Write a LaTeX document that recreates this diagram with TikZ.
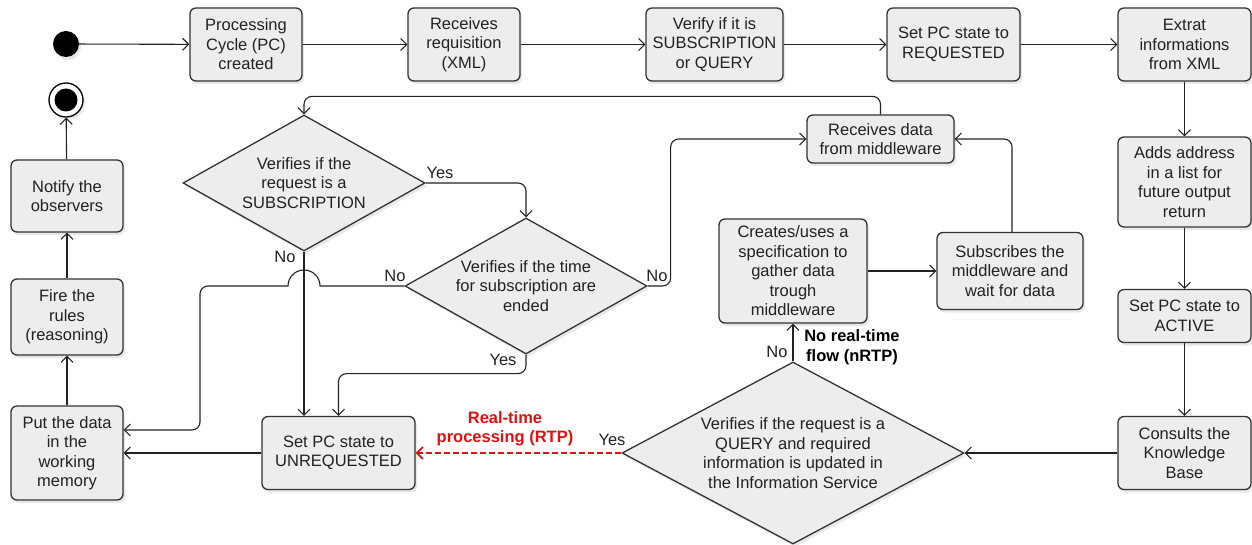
\documentclass[tikz,border=0pt]{standalone}
\usepackage{fontspec}
\setmainfont{Liberation Sans}
\usetikzlibrary{arrows.meta,shapes.geometric,shadows}
\definecolor{boxfill}{HTML}{EDEDED}
\definecolor{boxline}{HTML}{333333}
\definecolor{txt}{HTML}{222222}
\definecolor{rtp}{HTML}{E01010}
\begin{document}
\begin{tikzpicture}[x=1pt,y=-1pt,
  font=\fontsize{16.5}{19.5}\selectfont,
  shad/.style={drop shadow={shadow xshift=2pt,shadow yshift=-3pt,opacity=0.18}},
  box/.style={draw=boxline, line width=1.3pt, fill=boxfill, rounded corners=6pt,
    align=center, text=txt, inner sep=1pt, shad},
  dia/.style={draw=boxline, line width=1.3pt, fill=boxfill, diamond, inner sep=0pt, shad},
  dtext/.style={align=center, text=txt, inner sep=0pt},
  tip/.style={-{Straight Barb[length=6pt,width=12pt]}},
  flow/.style={draw=txt, line width=1.1pt, tip},
  rtpline/.style={draw=rtp, line width=1.8pt, dash pattern=on 6pt off 3pt,
    -{Straight Barb[length=6pt,width=12pt]}},
  lbl/.style={text=txt, inner sep=0pt},
  blbl/.style={text=black, inner sep=0pt, align=center, font=\fontsize{16.5}{19.5}\selectfont\bfseries},
  rlbl/.style={text=rtp, inner sep=0pt, align=center, font=\fontsize{16.5}{19.5}\selectfont\bfseries}]
\path[use as bounding box] (0,0) rectangle (1252,545);

% initial and final nodes
\node[circle, fill=black, minimum size=26pt, inner sep=0pt, shad] (start) at (66,44) {};
\node[circle, draw=black, fill=white, line width=1.3pt, minimum size=34pt, inner sep=0pt, shad] (end) at (66,100) {};
\node[circle, fill=black, minimum size=23pt, inner sep=0pt] (endin) at (end) {};

% top row
\node[box, minimum width=112pt, minimum height=73pt] (pc) at (246,44.5) {Processing\\Cycle (PC)\\created};
\node[box, minimum width=112pt, minimum height=73pt] (rr) at (464,44.5) {Receives\\requisition\\(XML)};
\node[box, minimum width=137pt, minimum height=73pt] (vq) at (714.5,44.5) {Verify if it is\\SUBSCRIPTION\\or QUERY};
\node[box, minimum width=133pt, minimum height=73pt] (req) at (953.5,44.5) {Set PC state to\\REQUESTED};
\node[box, minimum width=133pt, minimum height=73pt] (xml) at (1184.5,44.5) {Extrat\\informations\\from XML};

% right column
\node[box, minimum width=133pt, minimum height=90pt] (adds) at (1184.5,182) {Adds address\\in a list for\\future output\\return};
\node[box, minimum width=133pt, minimum height=53pt] (act) at (1184.5,316) {Set PC state to\\ACTIVE};
\node[box, minimum width=133pt, minimum height=73pt] (kb) at (1184.5,453) {Consults the\\Knowledge\\Base};

% middle
\node[box, minimum width=147pt, minimum height=48pt] (rd) at (880.5,139) {Receives data\\from middleware};
\node[box, minimum width=146pt, minimum height=77pt] (sub) at (1010,271) {Subscribes the\\middleware and\\wait for data};
\node[box, minimum width=148pt, minimum height=104pt] (cr) at (793,271) {Creates/uses a\\specification to\\gather data\\trough\\middleware};
\node[box, minimum width=153pt, minimum height=73pt] (unreq) at (338.5,453) {Set PC state to\\UNREQUESTED};

% left column
\node[box, minimum width=112pt, minimum height=94pt] (put) at (67,453) {Put the data\\in the\\working\\memory};
\node[box, minimum width=112pt, minimum height=76pt] (fire) at (67,317) {Fire the\\rules\\(reasoning)};
\node[box, minimum width=112pt, minimum height=72pt] (notify) at (67,196) {Notify the\\observers};

% decisions
\node[dia, minimum width=242pt, minimum height=136pt] (d1) at (304,183) {};
\node[dtext] (d1t) at (d1) {Verifies if the\\request is a\\SUBSCRIPTION};
\node[dia, minimum width=242pt, minimum height=136pt] (d2) at (526,286) {};
\node[dtext] (d2t) at (d2) {Verifies if the time\\for subscription are\\ended};
\node[dia, minimum width=342pt, minimum height=182pt] (d3) at (793,453) {};
\node[dtext] (d3t) at (d3) {Verifies if the request is a\\QUERY and required\\information is updated in\\the Information Service};

% connectors, top row
\draw[flow] (start) -- (pc);
\draw[flow] (pc) -- (rr);
\draw[flow] (rr) -- (vq);
\draw[flow] (vq) -- (req);
\draw[flow] (req) -- (xml);
\draw[flow] (xml) -- (adds);
\draw[flow] (adds) -- (act);
\draw[flow] (act) -- (kb);
\draw[flow] (kb) -- (d3.east);

% middle connectors
\draw[flow] (d3.north) -- (cr.south);
\draw[flow] (cr) -- (sub.west |- cr);
\draw[flow, rounded corners=8pt] (sub.north -| 1012,0) |- (rd.east);
\draw[flow, rounded corners=8pt] (rd.north) -- ++(0,-18) -| (d1.north);
\draw[flow, rounded corners=8pt] (d1.east) -| (d2.north);
\draw[flow] (d1.south) -- (unreq.north -| d1.south);
\draw[flow, rounded corners=8pt] (d2.south) -- ++(0,19) -| (unreq.north);
\draw[flow, rounded corners=8pt] (d2.east) -- ++(23,0) |- (rd.west);
\draw[flow] (d2.west) -- (320,286) arc[start angle=0, end angle=180, radius=16pt]
  -- (215,286) [rounded corners=8pt] -- (200,286) -- (200,430) -- (put.east |- 0,430);
\draw[rtpline] (d3.west) -- (unreq.east);

% left column connectors
\draw[flow] (unreq) -- (put);
\draw[flow] (put) -- (fire);
\draw[flow] (fire) -- (notify);
\draw[flow] (notify) -- (end);

% labels
\node[lbl] (l1) at (440,173) {Yes};
\node[lbl] (l2) at (285,257) {No};
\node[lbl] (l3) at (395,276) {No};
\node[lbl] (l4) at (657,276) {No};
\node[lbl] (l5) at (503,360) {Yes};
\node[lbl] (l6) at (777,352) {No};
\node[lbl] (l7) at (612,440) {Yes};
\node[blbl] (l8) at (852,347) {No real-time\\flow (nRTP)};
\node[rlbl] (l9) at (505,429) {Real-time\\processing (RTP)};
\end{tikzpicture}
\end{document}
